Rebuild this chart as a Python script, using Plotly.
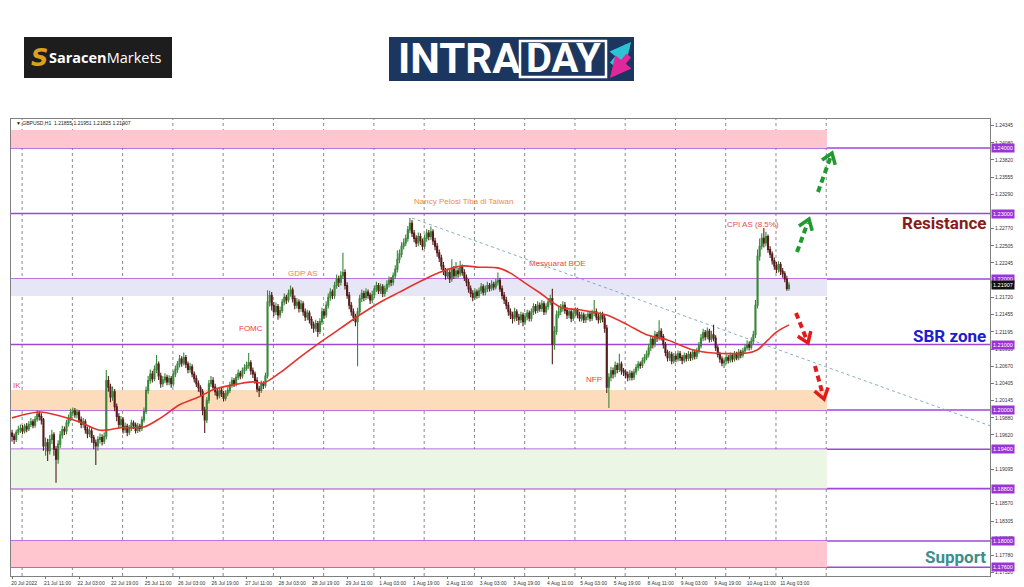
import math
import plotly.graph_objects as go

# ---------------- data (GBPUSD H1) ----------------
x_labels = ["20 Jul 2022", "21 Jul 11:00", "22 Jul 03:00", "22 Jul 19:00", "25 Jul 11:00",
            "26 Jul 03:00", "26 Jul 19:00", "27 Jul 11:00", "28 Jul 03:00", "28 Jul 19:00",
            "29 Jul 11:00", "1 Aug 03:00", "1 Aug 19:00", "2 Aug 11:00", "3 Aug 03:00",
            "3 Aug 19:00", "4 Aug 11:00", "5 Aug 03:00", "5 Aug 19:00", "8 Aug 11:00",
            "9 Aug 03:00", "9 Aug 19:00", "10 Aug 11:00", "11 Aug 03:00"]
x_label_bars = [0, 16, 32, 48, 64, 80, 96, 112, 128, 144, 160, 176, 192, 208, 224,
                240, 256, 272, 288, 304, 320, 336, 352, 368]

opens = [
    1.1965, 1.1960, 1.1955, 1.1966, 1.1970, 1.1972, 1.1968, 1.1975, 1.1971, 1.1978,
    1.1982, 1.1977, 1.1986, 1.1994, 1.1990, 1.1985, 1.1945, 1.1950, 1.1938, 1.1955,
    1.1962, 1.1940, 1.1925, 1.1948, 1.1962, 1.1970, 1.1968, 1.1980, 1.1988, 1.1996,
    1.1999, 1.1993, 1.1997, 1.1985, 1.1978, 1.1982, 1.1970, 1.1964, 1.1968, 1.1958,
    1.1950, 1.1945, 1.1955, 1.1958, 1.1952, 1.1960, 1.2045, 1.2035, 1.2020, 1.2028,
    1.2005, 1.1990, 1.1978, 1.1985, 1.1970, 1.1975, 1.1966, 1.1972, 1.1980, 1.1977,
    1.1969, 1.1975, 1.1972, 1.1985, 1.1998, 1.2030, 1.2045, 1.2055, 1.2048, 1.2062,
    1.2070, 1.2052, 1.2040, 1.2046, 1.2050, 1.2043, 1.2048, 1.2040, 1.2055, 1.2062,
    1.2070, 1.2078, 1.2072, 1.2080, 1.2070, 1.2062, 1.2066, 1.2055, 1.2048, 1.2040,
    1.2034, 1.2028, 1.2000, 1.1985, 1.2015, 1.2040, 1.2045, 1.2035, 1.2028, 1.2022,
    1.2030, 1.2025, 1.2018, 1.2025, 1.2030, 1.2038, 1.2045, 1.2040, 1.2050, 1.2056,
    1.2052, 1.2060, 1.2064, 1.2068, 1.2072, 1.2060, 1.2055, 1.2045, 1.2032, 1.2030,
    1.2040, 1.2038, 1.2052, 1.2165, 1.2175, 1.2160, 1.2150, 1.2158, 1.2145, 1.2152,
    1.2165, 1.2172, 1.2168, 1.2178, 1.2183, 1.2170, 1.2160, 1.2165, 1.2155, 1.2162,
    1.2150, 1.2142, 1.2148, 1.2138, 1.2130, 1.2125, 1.2132, 1.2120, 1.2135, 1.2150,
    1.2145, 1.2160, 1.2172, 1.2180, 1.2175, 1.2190, 1.2200, 1.2195, 1.2205, 1.2210,
    1.2190, 1.2175, 1.2160, 1.2150, 1.2142, 1.2135, 1.2150, 1.2170, 1.2178, 1.2172,
    1.2180, 1.2175, 1.2168, 1.2176, 1.2185, 1.2190, 1.2182, 1.2188, 1.2178, 1.2185,
    1.2192, 1.2198, 1.2195, 1.2205, 1.2215, 1.2230, 1.2238, 1.2250, 1.2255, 1.2262,
    1.2275, 1.2285, 1.2270, 1.2262, 1.2255, 1.2265, 1.2258, 1.2250, 1.2262, 1.2270,
    1.2265, 1.2272, 1.2258, 1.2250, 1.2240, 1.2232, 1.2220, 1.2212, 1.2205, 1.2210,
    1.2200, 1.2215, 1.2205, 1.2212, 1.2208, 1.2218, 1.2210, 1.2202, 1.2195, 1.2185,
    1.2178, 1.2172, 1.2180, 1.2175, 1.2182, 1.2188, 1.2180, 1.2185, 1.2190, 1.2186,
    1.2192, 1.2188, 1.2195, 1.2198, 1.2185, 1.2175, 1.2168, 1.2160, 1.2150, 1.2145,
    1.2140, 1.2150, 1.2142, 1.2138, 1.2145, 1.2135, 1.2142, 1.2148, 1.2140, 1.2150,
    1.2158, 1.2152, 1.2160, 1.2155, 1.2162, 1.2150, 1.2158, 1.2165, 1.2170, 1.2100,
    1.2120, 1.2145, 1.2150, 1.2155, 1.2160, 1.2152, 1.2145, 1.2150, 1.2140, 1.2148,
    1.2152, 1.2145, 1.2140, 1.2145, 1.2138, 1.2142, 1.2146, 1.2140, 1.2148, 1.2150,
    1.2142, 1.2138, 1.2145, 1.2140, 1.2125, 1.2035, 1.2050, 1.2060, 1.2055, 1.2068,
    1.2062, 1.2070, 1.2060, 1.2058, 1.2054, 1.2050, 1.2056, 1.2050, 1.2058, 1.2065,
    1.2070, 1.2068, 1.2075, 1.2080, 1.2085, 1.2095, 1.2108, 1.2100, 1.2115, 1.2110,
    1.2120, 1.2112, 1.2100, 1.2088, 1.2080, 1.2085, 1.2075, 1.2082, 1.2078, 1.2086,
    1.2080, 1.2076, 1.2083, 1.2079, 1.2085, 1.2080, 1.2088, 1.2082, 1.2090, 1.2098,
    1.2110, 1.2118, 1.2112, 1.2120, 1.2108, 1.2115, 1.2110, 1.2095, 1.2085, 1.2078,
    1.2072, 1.2075, 1.2080, 1.2076, 1.2083, 1.2078, 1.2085, 1.2080, 1.2088, 1.2084,
    1.2090, 1.2095, 1.2100, 1.2096, 1.2105, 1.2115, 1.2160, 1.2235, 1.2250, 1.2262,
    1.2255, 1.2265, 1.2245, 1.2238, 1.2228, 1.2220, 1.2215, 1.2222, 1.2212, 1.2208,
    1.2200, 1.21855]

highs = [
    1.1970, 1.1964, 1.1970, 1.1976, 1.1978, 1.1977, 1.1979, 1.1980, 1.1983, 1.1988,
    1.1986, 1.1991, 1.2000, 1.1998, 1.1995, 1.1988, 1.1958, 1.1956, 1.1962, 1.1970,
    1.1966, 1.1945, 1.1954, 1.1968, 1.1976, 1.1975, 1.1985, 1.1993, 1.2002, 1.2004,
    1.2003, 1.2001, 1.2000, 1.1990, 1.1988, 1.1986, 1.1975, 1.1974, 1.1972, 1.1962,
    1.1955, 1.1960, 1.1964, 1.1963, 1.1966, 1.2061, 1.2052, 1.2040, 1.2036, 1.2032,
    1.2010, 1.1995, 1.1991, 1.1989, 1.1981, 1.1979, 1.1977, 1.1985, 1.1984, 1.1981,
    1.1980, 1.1979, 1.1990, 1.2004, 1.2036, 1.2052, 1.2062, 1.2060, 1.2068, 1.2084,
    1.2074, 1.2057, 1.2052, 1.2056, 1.2054, 1.2053, 1.2052, 1.2060, 1.2068, 1.2075,
    1.2084, 1.2082, 1.2088, 1.2084, 1.2074, 1.2072, 1.2070, 1.2059, 1.2053, 1.2045,
    1.2038, 1.2032, 1.2005, 1.2020, 1.2046, 1.2052, 1.2050, 1.2040, 1.2033, 1.2035,
    1.2034, 1.2029, 1.2030, 1.2036, 1.2043, 1.2050, 1.2049, 1.2055, 1.2062, 1.2060,
    1.2065, 1.2070, 1.2074, 1.2087, 1.2076, 1.2065, 1.2059, 1.2050, 1.2037, 1.2045,
    1.2044, 1.2057, 1.2183, 1.2182, 1.2180, 1.2165, 1.2164, 1.2162, 1.2158, 1.2170,
    1.2178, 1.2176, 1.2184, 1.2190, 1.2187, 1.2175, 1.2171, 1.2169, 1.2168, 1.2166,
    1.2155, 1.2153, 1.2152, 1.2143, 1.2135, 1.2138, 1.2136, 1.2140, 1.2156, 1.2155,
    1.2166, 1.2178, 1.2186, 1.2184, 1.2196, 1.2207, 1.2205, 1.2212, 1.2240, 1.2215,
    1.2195, 1.2180, 1.2165, 1.2155, 1.2147, 1.2156, 1.2176, 1.2184, 1.2182, 1.2186,
    1.2184, 1.2179, 1.2182, 1.2190, 1.2196, 1.2194, 1.2193, 1.2192, 1.2190, 1.2198,
    1.2204, 1.2203, 1.2210, 1.2221, 1.2244, 1.2245, 1.2256, 1.2262, 1.2268, 1.2281,
    1.2293, 1.2290, 1.2275, 1.2267, 1.2271, 1.2270, 1.2262, 1.2268, 1.2276, 1.2275,
    1.2280, 1.2276, 1.2263, 1.2255, 1.2245, 1.2237, 1.2226, 1.2217, 1.2216, 1.2214,
    1.2230, 1.2220, 1.2226, 1.2217, 1.2228, 1.2222, 1.2215, 1.2207, 1.2200, 1.2190,
    1.2183, 1.2186, 1.2184, 1.2187, 1.2194, 1.2192, 1.2190, 1.2196, 1.2194, 1.2198,
    1.2196, 1.2200, 1.2210, 1.2202, 1.2190, 1.2180, 1.2173, 1.2165, 1.2155, 1.2150,
    1.2156, 1.2154, 1.2147, 1.2150, 1.2149, 1.2148, 1.2153, 1.2152, 1.2155, 1.2163,
    1.2162, 1.2166, 1.2164, 1.2168, 1.2166, 1.2163, 1.2170, 1.2176, 1.2185, 1.2128,
    1.2152, 1.2158, 1.2162, 1.2166, 1.2165, 1.2157, 1.2155, 1.2154, 1.2153, 1.2157,
    1.2156, 1.2150, 1.2150, 1.2149, 1.2147, 1.2151, 1.2150, 1.2153, 1.2168, 1.2155,
    1.2147, 1.2150, 1.2150, 1.2145, 1.2130, 1.2056, 1.2066, 1.2065, 1.2074, 1.2072,
    1.2086, 1.2074, 1.2064, 1.2062, 1.2059, 1.2061, 1.2060, 1.2063, 1.2070, 1.2075,
    1.2074, 1.2080, 1.2085, 1.2091, 1.2101, 1.2114, 1.2112, 1.2121, 1.2119, 1.2137,
    1.2125, 1.2116, 1.2104, 1.2092, 1.2090, 1.2089, 1.2087, 1.2086, 1.2091, 1.2090,
    1.2084, 1.2088, 1.2087, 1.2090, 1.2089, 1.2093, 1.2092, 1.2095, 1.2104, 1.2116,
    1.2124, 1.2122, 1.2126, 1.2124, 1.2121, 1.2130, 1.2114, 1.2099, 1.2089, 1.2082,
    1.2080, 1.2085, 1.2084, 1.2088, 1.2087, 1.2090, 1.2089, 1.2093, 1.2092, 1.2095,
    1.2100, 1.2106, 1.2105, 1.2111, 1.2121, 1.2168, 1.2245, 1.2262, 1.2270, 1.2278,
    1.2272, 1.2268, 1.2250, 1.2242, 1.2233, 1.2226, 1.2227, 1.2226, 1.2217, 1.2212,
    1.2205, 1.21951]

lows = [
    1.1952, 1.1948, 1.1951, 1.1962, 1.1965, 1.1963, 1.1964, 1.1966, 1.1968, 1.1974,
    1.1972, 1.1973, 1.1982, 1.1984, 1.1978, 1.1938, 1.1930, 1.1922, 1.1932, 1.1948,
    1.1930, 1.1889, 1.1918, 1.1942, 1.1956, 1.1962, 1.1963, 1.1975, 1.1983, 1.1990,
    1.1988, 1.1987, 1.1980, 1.1972, 1.1973, 1.1964, 1.1957, 1.1959, 1.1950, 1.1940,
    1.1916, 1.1938, 1.1949, 1.1946, 1.1948, 1.1955, 1.2028, 1.2012, 1.2014, 1.1998,
    1.1983, 1.1972, 1.1973, 1.1964, 1.1965, 1.1960, 1.1962, 1.1968, 1.1971, 1.1964,
    1.1965, 1.1967, 1.1968, 1.1981, 1.1994, 1.2025, 1.2040, 1.2042, 1.2044, 1.2056,
    1.2046, 1.2034, 1.2035, 1.2041, 1.2038, 1.2038, 1.2034, 1.2036, 1.2050, 1.2057,
    1.2065, 1.2066, 1.2068, 1.2064, 1.2056, 1.2057, 1.2050, 1.2042, 1.2035, 1.2028,
    1.2020, 1.1992, 1.1965, 1.1980, 1.2010, 1.2035, 1.2030, 1.2022, 1.2016, 1.2018,
    1.2020, 1.2013, 1.2014, 1.2021, 1.2026, 1.2034, 1.2035, 1.2036, 1.2046, 1.2047,
    1.2048, 1.2055, 1.2060, 1.2063, 1.2054, 1.2049, 1.2040, 1.2027, 1.2020, 1.2026,
    1.2032, 1.2034, 1.2048, 1.2158, 1.2152, 1.2143, 1.2145, 1.2138, 1.2140, 1.2148,
    1.2160, 1.2162, 1.2164, 1.2173, 1.2164, 1.2154, 1.2155, 1.2149, 1.2150, 1.2144,
    1.2136, 1.2137, 1.2132, 1.2124, 1.2118, 1.2120, 1.2112, 1.2116, 1.2130, 1.2139,
    1.2141, 1.2155, 1.2167, 1.2169, 1.2170, 1.2185, 1.2188, 1.2190, 1.2200, 1.2184,
    1.2170, 1.2154, 1.2144, 1.2136, 1.2128, 1.2067, 1.2145, 1.2165, 1.2166, 1.2168,
    1.2170, 1.2162, 1.2163, 1.2171, 1.2180, 1.2177, 1.2177, 1.2172, 1.2173, 1.2180,
    1.2187, 1.2189, 1.2190, 1.2200, 1.2210, 1.2224, 1.2233, 1.2245, 1.2250, 1.2257,
    1.2270, 1.2264, 1.2256, 1.2249, 1.2250, 1.2252, 1.2244, 1.2246, 1.2257, 1.2259,
    1.2260, 1.2252, 1.2244, 1.2234, 1.2226, 1.2214, 1.2206, 1.2199, 1.2200, 1.2194,
    1.2196, 1.2200, 1.2200, 1.2202, 1.2204, 1.2205, 1.2197, 1.2189, 1.2179, 1.2172,
    1.2166, 1.2168, 1.2170, 1.2171, 1.2177, 1.2175, 1.2175, 1.2180, 1.2181, 1.2182,
    1.2183, 1.2184, 1.2190, 1.2180, 1.2169, 1.2162, 1.2154, 1.2144, 1.2139, 1.2132,
    1.2135, 1.2136, 1.2130, 1.2133, 1.2128, 1.2130, 1.2137, 1.2135, 1.2135, 1.2145,
    1.2147, 1.2148, 1.2150, 1.2150, 1.2145, 1.2146, 1.2153, 1.2160, 1.2070, 1.2092,
    1.2115, 1.2140, 1.2145, 1.2150, 1.2147, 1.2139, 1.2140, 1.2134, 1.2136, 1.2143,
    1.2140, 1.2135, 1.2135, 1.2133, 1.2133, 1.2137, 1.2135, 1.2136, 1.2143, 1.2137,
    1.2132, 1.2133, 1.2134, 1.2118, 1.2026, 1.2003, 1.2044, 1.2048, 1.2050, 1.2056,
    1.2058, 1.2054, 1.2052, 1.2048, 1.2044, 1.2045, 1.2045, 1.2046, 1.2054, 1.2060,
    1.2063, 1.2064, 1.2071, 1.2076, 1.2080, 1.2090, 1.2094, 1.2096, 1.2104, 1.2106,
    1.2106, 1.2094, 1.2082, 1.2074, 1.2075, 1.2070, 1.2071, 1.2073, 1.2074, 1.2075,
    1.2070, 1.2072, 1.2074, 1.2075, 1.2075, 1.2076, 1.2077, 1.2078, 1.2086, 1.2094,
    1.2105, 1.2106, 1.2108, 1.2103, 1.2104, 1.2105, 1.2090, 1.2080, 1.2072, 1.2067,
    1.2064, 1.2070, 1.2071, 1.2072, 1.2073, 1.2074, 1.2076, 1.2076, 1.2079, 1.2080,
    1.2086, 1.2091, 1.2091, 1.2092, 1.2100, 1.2110, 1.2155, 1.2228, 1.2245, 1.2248,
    1.2250, 1.2240, 1.2232, 1.2222, 1.2214, 1.2209, 1.2210, 1.2206, 1.2202, 1.2195,
    1.2182, 1.21825]

closes = [
    1.1960, 1.1955, 1.1966, 1.1970, 1.1972, 1.1968, 1.1975, 1.1971, 1.1978, 1.1982,
    1.1977, 1.1986, 1.1994, 1.1990, 1.1985, 1.1945, 1.1950, 1.1938, 1.1955, 1.1962,
    1.1940, 1.1925, 1.1948, 1.1962, 1.1970, 1.1968, 1.1980, 1.1988, 1.1996, 1.1999,
    1.1993, 1.1997, 1.1985, 1.1978, 1.1982, 1.1970, 1.1964, 1.1968, 1.1958, 1.1950,
    1.1945, 1.1955, 1.1958, 1.1952, 1.1960, 1.2045, 1.2035, 1.2020, 1.2028, 1.2005,
    1.1990, 1.1978, 1.1985, 1.1970, 1.1975, 1.1966, 1.1972, 1.1980, 1.1977, 1.1969,
    1.1975, 1.1972, 1.1985, 1.1998, 1.2030, 1.2045, 1.2055, 1.2048, 1.2062, 1.2070,
    1.2052, 1.2040, 1.2046, 1.2050, 1.2043, 1.2048, 1.2040, 1.2055, 1.2062, 1.2070,
    1.2078, 1.2072, 1.2080, 1.2070, 1.2062, 1.2066, 1.2055, 1.2048, 1.2040, 1.2034,
    1.2028, 1.2000, 1.1985, 1.2015, 1.2040, 1.2045, 1.2035, 1.2028, 1.2022, 1.2030,
    1.2025, 1.2018, 1.2025, 1.2030, 1.2038, 1.2045, 1.2040, 1.2050, 1.2056, 1.2052,
    1.2060, 1.2064, 1.2068, 1.2072, 1.2060, 1.2055, 1.2045, 1.2032, 1.2030, 1.2040,
    1.2038, 1.2052, 1.2165, 1.2175, 1.2160, 1.2150, 1.2158, 1.2145, 1.2152, 1.2165,
    1.2172, 1.2168, 1.2178, 1.2183, 1.2170, 1.2160, 1.2165, 1.2155, 1.2162, 1.2150,
    1.2142, 1.2148, 1.2138, 1.2130, 1.2125, 1.2132, 1.2120, 1.2135, 1.2150, 1.2145,
    1.2160, 1.2172, 1.2180, 1.2175, 1.2190, 1.2200, 1.2195, 1.2205, 1.2210, 1.2190,
    1.2175, 1.2160, 1.2150, 1.2142, 1.2135, 1.2150, 1.2170, 1.2178, 1.2172, 1.2180,
    1.2175, 1.2168, 1.2176, 1.2185, 1.2190, 1.2182, 1.2188, 1.2178, 1.2185, 1.2192,
    1.2198, 1.2195, 1.2205, 1.2215, 1.2230, 1.2238, 1.2250, 1.2255, 1.2262, 1.2275,
    1.2285, 1.2270, 1.2262, 1.2255, 1.2265, 1.2258, 1.2250, 1.2262, 1.2270, 1.2265,
    1.2272, 1.2258, 1.2250, 1.2240, 1.2232, 1.2220, 1.2212, 1.2205, 1.2210, 1.2200,
    1.2215, 1.2205, 1.2212, 1.2208, 1.2218, 1.2210, 1.2202, 1.2195, 1.2185, 1.2178,
    1.2172, 1.2180, 1.2175, 1.2182, 1.2188, 1.2180, 1.2185, 1.2190, 1.2186, 1.2192,
    1.2188, 1.2195, 1.2198, 1.2185, 1.2175, 1.2168, 1.2160, 1.2150, 1.2145, 1.2140,
    1.2150, 1.2142, 1.2138, 1.2145, 1.2135, 1.2142, 1.2148, 1.2140, 1.2150, 1.2158,
    1.2152, 1.2160, 1.2155, 1.2162, 1.2150, 1.2158, 1.2165, 1.2170, 1.2100, 1.2120,
    1.2145, 1.2150, 1.2155, 1.2160, 1.2152, 1.2145, 1.2150, 1.2140, 1.2148, 1.2152,
    1.2145, 1.2140, 1.2145, 1.2138, 1.2142, 1.2146, 1.2140, 1.2148, 1.2150, 1.2142,
    1.2138, 1.2145, 1.2140, 1.2125, 1.2035, 1.2050, 1.2060, 1.2055, 1.2068, 1.2062,
    1.2070, 1.2060, 1.2058, 1.2054, 1.2050, 1.2056, 1.2050, 1.2058, 1.2065, 1.2070,
    1.2068, 1.2075, 1.2080, 1.2085, 1.2095, 1.2108, 1.2100, 1.2115, 1.2110, 1.2120,
    1.2112, 1.2100, 1.2088, 1.2080, 1.2085, 1.2075, 1.2082, 1.2078, 1.2086, 1.2080,
    1.2076, 1.2083, 1.2079, 1.2085, 1.2080, 1.2088, 1.2082, 1.2090, 1.2098, 1.2110,
    1.2118, 1.2112, 1.2120, 1.2108, 1.2115, 1.2110, 1.2095, 1.2085, 1.2078, 1.2072,
    1.2075, 1.2080, 1.2076, 1.2083, 1.2078, 1.2085, 1.2080, 1.2088, 1.2084, 1.2090,
    1.2095, 1.2100, 1.2096, 1.2105, 1.2115, 1.2160, 1.2235, 1.2250, 1.2262, 1.2255,
    1.2265, 1.2245, 1.2238, 1.2228, 1.2220, 1.2215, 1.2222, 1.2212, 1.2208, 1.2200,
    1.21855, 1.21907]

# red moving average
ma_bars = [0, 13, 23, 32, 42, 52, 63, 71, 80, 90, 96, 105, 115, 120, 128, 138, 147,
           157, 166, 176, 185, 196, 204, 215, 223, 232, 238, 244, 252, 262, 271, 284,
           294, 303, 313, 325, 335, 351, 356, 361, 365, 371]
ma_values = [1.1988, 1.1997, 1.1991, 1.1982, 1.1969, 1.1973, 1.1974, 1.1988, 1.2008,
             1.2021, 1.2031, 1.2038, 1.2043, 1.2041, 1.2057, 1.2082, 1.2103, 1.2125,
             1.2145, 1.2165, 1.2180, 1.2198, 1.2210, 1.2220, 1.2218, 1.2217, 1.2209,
             1.2196, 1.2179, 1.2157, 1.2153, 1.2145, 1.2130, 1.2115, 1.2107, 1.2092,
             1.2087, 1.2087, 1.2092, 1.2107, 1.2119, 1.2130]

levels = [1.2400, 1.2300, 1.2200, 1.2100, 1.2000, 1.1940, 1.1880, 1.1800, 1.1760]
level_labels = ["1.24000", "1.23000", "1.22000", "1.21000", "1.20000", "1.19400",
                "1.18800", "1.18000", "1.17600"]
last_price = 1.21907
last_price_label = "1.21907"

# price-scale ticks (the ones hidden under the level boxes are left out)
y_ticks = [1.24345, 1.24080, 1.23820, 1.23555, 1.23290, 1.22770, 1.22505,
           1.22245, 1.21720, 1.21455, 1.21195, 1.20930, 1.20670, 1.20405,
           1.20145, 1.19880, 1.19620, 1.19095, 1.18570, 1.18305,
           1.18045, 1.17780, 1.17520]

zone_low = [1.2400, 1.2174, 1.2000, 1.1880, 1.1760]
zone_high = [1.24275, 1.2200, 1.20305, 1.1940, 1.1800]
zone_colors = ["#ffc6cf", "#e6e6f7", "#fddcbc", "#ebf6e5", "#ffc6cf"]
zone_end_bar = 389.2

grid_bars = [4.8 + 24 * k for k in range(17)]

trend_bars = [191, 467]
trend_prices = [1.2293, 1.1976]

event_texts = ["Nancy Pelosi Tiba di Taiwan", "GDP AS", "FOMC", "Mesyuarat BOE",
               "NFP", "CPI AS (8.5%)"]
event_bars = [215.4, 139, 114, 260, 278, 354]
event_prices = [1.2318, 1.2208, 1.2124, 1.2224, 1.2047, 1.2284]
event_colors = ["#f08a40", "#f0805a", "#e5413a", "#e84c48", "#e4463c", "#e45050"]

header_text = "▼ GBPUSD,H1  1.21855 1.21951 1.21825 1.21907"

assert len(opens) == len(highs) == len(lows) == len(closes)
bars = list(range(len(closes)))

# ---------------- geometry ----------------
W, H = 1024, 587
ML, MR, MT, MB = 11, 34, 119, 11
PW, PH = W - ML - MR, H - MT - MB
XR = [-0.5, 467.0]
YR = [1.17466, 1.24443]


def pxx(px):
    return (px - ML) / PW


def pxy(py):
    return (H - MB - py) / PH


fig = go.Figure()

fig.add_trace(go.Candlestick(
    x=bars, open=opens, high=highs, low=lows, close=closes,
    increasing=dict(line=dict(color="#3b873b", width=1.1), fillcolor="#3b873b"),
    decreasing=dict(line=dict(color="#561c1c", width=1.1), fillcolor="#561c1c"),
    whiskerwidth=0, showlegend=False, hoverinfo="skip"))

fig.add_trace(go.Scatter(
    x=ma_bars, y=ma_values, mode="lines", showlegend=False, hoverinfo="skip",
    line=dict(color="#e2332c", width=1.6, shape="spline", smoothing=0.8)))

shapes = []
for lo, hi, col in zip(zone_low, zone_high, zone_colors):
    shapes.append(dict(type="rect", xref="x", yref="y", x0=XR[0], x1=zone_end_bar,
                       y0=lo, y1=hi, fillcolor=col, line=dict(width=0), layer="below"))
for gb in grid_bars:
    shapes.append(dict(type="line", xref="x", yref="paper", x0=gb, x1=gb, y0=0, y1=1,
                       line=dict(color="#8a8a8a", width=1, dash="dot"), layer="below"))
shapes.append(dict(type="line", xref="x", yref="y", x0=trend_bars[0], x1=trend_bars[1],
                   y0=trend_prices[0], y1=trend_prices[1],
                   line=dict(color="#7fb0bd", width=1, dash="dot"), layer="below"))
for lv in levels:
    shapes.append(dict(type="line", xref="paper", yref="y", x0=0, x1=1, y0=lv, y1=lv,
                       line=dict(color="#a046d6", width=1.6), layer="below"))


def dashed_arrow(tail, tip, color):
    dx, dy = tip[0] - tail[0], tip[1] - tail[1]
    n = math.hypot(dx, dy)
    ux, uy = dx / n, dy / n
    qx, qy = -uy, ux
    end = (tip[0] - 4 * ux, tip[1] - 4 * uy)
    a1 = (tip[0] - 10 * ux + 7 * qx, tip[1] - 10 * uy + 7 * qy)
    a2 = (tip[0] - 10 * ux - 7 * qx, tip[1] - 10 * uy - 7 * qy)
    out = [dict(type="line", xref="paper", yref="paper",
                x0=pxx(tail[0]), y0=pxy(tail[1]), x1=pxx(end[0]), y1=pxy(end[1]),
                line=dict(color=color, width=4, dash="6px,4px"))]
    path = "M {} {} L {} {} L {} {}".format(pxx(a1[0]), pxy(a1[1]), pxx(tip[0]), pxy(tip[1]),
                                          pxx(a2[0]), pxy(a2[1]))
    out.append(dict(type="path", xref="paper", yref="paper", path=path,
                    line=dict(color=color, width=3.5)))
    return out


shapes += dashed_arrow((797, 252), (809, 219), "#1f9a2e")
shapes += dashed_arrow((818, 192), (832, 153), "#1f9a2e")
shapes += dashed_arrow((796, 313), (808, 343), "#e11b1b")
shapes += dashed_arrow((815, 366), (824, 399), "#e11b1b")

# logos
shapes.append(dict(type="rect", xref="paper", yref="paper", x0=pxx(24), x1=pxx(172),
                   y0=pxy(78), y1=pxy(37), fillcolor="#1d1d1d", line=dict(width=0)))
shapes.append(dict(type="rect", xref="paper", yref="paper", x0=pxx(389), x1=pxx(634),
                   y0=pxy(81), y1=pxy(37), fillcolor="#1b365f", line=dict(width=0)))
shapes.append(dict(type="rect", xref="paper", yref="paper", x0=pxx(520), x1=pxx(606),
                   y0=pxy(77), y1=pxy(41), line=dict(color="white", width=2.5)))

ann = []
ann.append(dict(xref="paper", yref="paper", x=pxx(14), y=pxy(123), text=header_text,
                showarrow=False, xanchor="left", yanchor="middle",
                font=dict(family="Liberation Sans", size=5, color="#222")))
for t, b, p, c in zip(event_texts, event_bars, event_prices, event_colors):
    ann.append(dict(x=b, y=p, text=t, showarrow=False, xanchor="center", yanchor="middle",
                    font=dict(family="Liberation Sans", size=8, color=c)))
ann.append(dict(xref="paper", yref="paper", x=pxx(11), y=pxy(385), text="IK",
                showarrow=False, xanchor="left", yanchor="middle",
                font=dict(family="Liberation Sans", size=8, color="#e8504a")))
for txt, yy, col in [("Resistance", 223, "#8c1a1a"), ("SBR zone", 336, "#1d1dcf"),
                     ("Support", 557, "#3b8e8c")]:
    ann.append(dict(xref="paper", yref="paper", x=pxx(988), y=pxy(yy), text="<b>" + txt + "</b>",
                    showarrow=False, xanchor="right", yanchor="middle",
                    font=dict(family="Roboto", size=17, color=col)))
for lv, lab in zip(levels, level_labels):
    ann.append(dict(xref="paper", yref="y", x=pxx(991), y=lv, text=lab, showarrow=False,
                    xanchor="left", yanchor="middle", bgcolor="#9b34d6", borderpad=1,
                    font=dict(family="Liberation Sans", size=5.5, color="white")))
ann.append(dict(xref="paper", yref="y", x=pxx(991), y=last_price, text=last_price_label,
                showarrow=False, xanchor="left", yanchor="middle", bgcolor="#111",
                borderpad=1, font=dict(family="Liberation Sans", size=5.5, color="white")))

# logo texts
ann.append(dict(xref="paper", yref="paper", x=pxx(39), y=pxy(58), text="<b><i>S</i></b>",
                showarrow=False, xanchor="center", yanchor="middle",
                font=dict(family="DejaVu Sans", size=24, color="#d8a21f")))
ann.append(dict(xref="paper", yref="paper", x=pxx(47), y=pxy(57),
                text="<b>Saracen</b>Markets", showarrow=False, xanchor="left",
                yanchor="middle", font=dict(family="Open Sans", size=14.5, color="white")))
ann.append(dict(xref="paper", yref="paper", x=pxx(396), y=pxy(59), text="<b>INTRA</b>",
                showarrow=False, xanchor="left", yanchor="middle",
                font=dict(family="Roboto", size=42, color="white")))
ann.append(dict(xref="paper", yref="paper", x=pxx(563), y=pxy(59), text="<b>DAY</b>",
                showarrow=False, xanchor="center", yanchor="middle",
                font=dict(family="Roboto", size=40, color="white")))
ann.append(dict(xref="paper", yref="paper", x=pxx(631), y=pxy(42), ax=-20, ay=24,
                showarrow=True, arrowhead=2, arrowsize=0.7, arrowwidth=6,
                arrowcolor="#2cc3d5", text=""))
ann.append(dict(xref="paper", yref="paper", x=pxx(610), y=pxy(78), ax=20, ay=-24,
                showarrow=True, arrowhead=2, arrowsize=0.7, arrowwidth=6,
                arrowcolor="#e2269c", text=""))

fig.update_layout(
    width=W, height=H, margin=dict(l=ML, r=MR, t=MT, b=MB, autoexpand=False),
    paper_bgcolor="white", plot_bgcolor="white", showlegend=False,
    shapes=shapes, annotations=ann, hovermode=False,
    xaxis=dict(range=XR, rangeslider=dict(visible=False), showgrid=False, zeroline=False,
               tickmode="array", tickvals=x_label_bars, ticktext=x_labels,
               tickfont=dict(family="Liberation Sans", size=5, color="#333"),
               ticks="outside", ticklen=2, tickcolor="#777", ticklabelshift=12,
               showline=True, mirror=True, linecolor="#808080", linewidth=1),
    yaxis=dict(range=YR, side="right", showgrid=False, zeroline=False,
               tickmode="array", tickvals=y_ticks, ticktext=["%.5f" % v for v in y_ticks],
               tickfont=dict(family="Liberation Sans", size=5, color="#333"),
               ticks="outside", ticklen=3, tickcolor="#777",
               showline=True, mirror=True, linecolor="#808080", linewidth=1),
)

fig.write_html("out.html", config={"displayModeBar": False},
               post_script="document.body.style.margin='0px';"
                           "document.body.style.overflow='hidden';")
